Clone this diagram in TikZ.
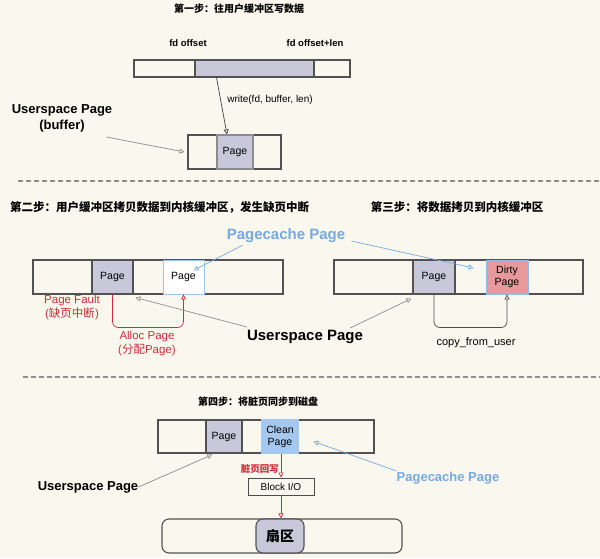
\documentclass[tikz,border=0pt]{standalone}
\usepackage{fontspec}
\setmainfont{Liberation Sans}
\newfontfamily\cjk{Noto Sans CJK SC}
\usetikzlibrary{arrows.meta}
\definecolor{cream}{HTML}{FAF8EE}
\definecolor{pagegray}{HTML}{C9C8DA}
\definecolor{cacheblue}{HTML}{76AAE2}
\definecolor{cleanblue}{HTML}{A5C8EE}
\definecolor{dirtyred}{HTML}{E8999C}
\definecolor{faultred}{HTML}{D32C38}
\definecolor{linegray}{HTML}{8C8C8C}

\tikzset{
  bar/.style={draw=black!68, line width=1.1pt, minimum height=#1, inner sep=0pt},
  bar/.default=34pt,
  pg/.style={draw=black!68, line width=1.1pt, fill=pagegray, inner sep=0pt,
    minimum height=34pt, align=center, font=\fontsize{10.5}{12}\selectfont},
  lbl/.style={inner sep=0pt, align=center},
  title/.style={inner sep=0pt, font=\cjk\bfseries\fontsize{#1}{13}\selectfont},
  title/.default=10,
  big/.style={inner sep=0pt, align=center, font=\bfseries\fontsize{#1}{16}\selectfont},
  big/.default=13,
  gtip/.style={-{Triangle[open,length=5pt,width=5pt]}, line width=0.7pt},
  grayarrow/.style={gtip, draw=linegray},
  bluearrow/.style={gtip, draw=cacheblue},
  redarrow/.style={gtip, draw=faultred},
  sep/.style={draw=linegray, line width=1.2pt, dash pattern=on 5pt off 3pt}
}

\begin{document}
\begin{tikzpicture}[x=1pt,y=-1pt]
  \fill [cream] (0,0) rectangle (600,558);
  \useasboundingbox (0,0) rectangle (600,558);

  % step 1
  \node[title] (t1) at (239,9) {第一步：往用户缓冲区写数据};
  \node[lbl, font=\bfseries\fontsize{9.5}{11}\selectfont] (fdoff) at (188,43) {fd offset};
  \node[lbl, font=\bfseries\fontsize{9.5}{11}\selectfont] (fdlen) at (315,43) {fd offset+len};
  \node[bar=17pt, minimum width=216pt] (file1) at (242,68.5) {};
  \node[pg, minimum height=17pt, minimum width=119pt] (range1) at (254.5,68.5) {};
  \node[bar, minimum width=93pt] (buf1) at (234.5,152) {};
  \node[pg, draw=black!45, minimum width=36pt] (page1) at (235,152) {Page};
  \node[lbl, font=\fontsize{10}{11}\selectfont] (wr) at (270,100) {write(fd, buffer, len)};
  \node[big] (ubuf) at (62,118) {Userspace Page\\(buffer)};
  \draw[gtip, draw=black!75] ([xshift=-38pt]range1.south) -- ([xshift=-8pt]page1.north);
  \draw[grayarrow] ([xshift=-6pt,yshift=-5pt]ubuf.south east) -- ([xshift=-3pt]buf1.west);

  \draw[sep] (18,181) -- (600,181);

  % step 2
  \node[title=11.5, anchor=west] (t2) at (10,207) {第二步：用户缓冲区拷贝数据到内核缓冲区，发生缺页中断};
  \node[bar, minimum width=250pt] (file2) at (158,277) {};
  \node[pg, minimum width=41pt] (upage2) at (112.5,277) {Page};
  \node[pg, draw=cacheblue!70, line width=0.8pt, fill=white, minimum width=41pt] (cpage2) at (183.5,277) {Page};
  \node[lbl, text=faultred, font=\fontsize{11.5}{14}\selectfont] (fault) at (72,308) {Page Fault\\({\cjk 缺页中断})};
  \node[lbl, text=faultred, font=\fontsize{11.5}{14}\selectfont] (alloc) at (147,344) {Alloc Page\\({\cjk 分配}Page)};
  \draw[redarrow, rounded corners=6pt] (upage2.south) -- ++(0,33) -| (cpage2.south);

  % step 3
  \node[title=11.5] (t3) at (457,207) {第三步：将数据拷贝到内核缓冲区};
  \node[bar, minimum width=249pt] (file3) at (458.5,277) {};
  \node[pg, minimum width=42pt] (upage3) at (434,277) {Page};
  \node[pg, draw=cacheblue!80, line width=0.8pt, fill=dirtyred, minimum width=42pt] (dirty) at (507,277) {Dirty\\Page};
  \node[lbl, font=\fontsize{11}{12}\selectfont] (cfu) at (476,343) {copy\_from\_user};
  \draw[gtip, draw=black!70, rounded corners=6pt] (upage3.south) -- ++(0,33) -| (dirty.south);

  % labels shared by step 2 and 3
  \node[big=15, text=cacheblue] (cache23) at (286,236) {Pagecache Page};
  \node[big=15] (user23) at (305,337) {Userspace Page};
  \draw[bluearrow] ([xshift=16pt,yshift=-2pt]cache23.south west) -- ([xshift=10pt,yshift=24pt]cpage2.south);
  \draw[bluearrow] ([xshift=6pt,yshift=-5pt]cache23.east) -- ([xshift=-12pt,yshift=9pt]dirty.west);
  \draw[grayarrow] ([yshift=10pt]user23.west) -- ([xshift=2pt,yshift=-3pt]upage2.south east);
  \draw[grayarrow] ([xshift=-13pt,yshift=9pt]user23.east) -- ([xshift=-1pt,yshift=-4pt]upage3.south west);

  \draw[sep] (23,377) -- (600,377);

  % step 4
  \node[title] (t4) at (258,402) {第四步：将脏页同步到磁盘};
  \node[bar=33pt, minimum width=216pt] (file4) at (266,436.5) {};
  \node[pg, minimum height=33pt, minimum width=36pt] (upage4) at (224,436.5) {Page};
  \node[pg, draw=cleanblue, fill=cleanblue, minimum height=33pt, minimum width=36pt] (clean) at (280,436.5) {Clean\\Page};
  \node[draw=black!70, line width=1pt, minimum width=66pt, minimum height=17pt, inner sep=0pt,
    font=\fontsize{10}{11}\selectfont] (bio) at (281,486.5) {Block I/O};
  \node[draw=black!68, line width=1.1pt, rounded corners=7pt, minimum width=240pt, minimum height=34pt] (disk) at (282,536) {};
  \node[pg, rounded corners=7pt, minimum width=48pt, font=\cjk\bfseries\fontsize{14}{16}\selectfont] (sector) at (280,536) {扇区};
  \node[lbl, anchor=east, text=faultred, font=\cjk\bfseries\fontsize{9.5}{11}\selectfont] (wb) at (279,469) {脏页回写};
  \draw[redarrow] (clean.south -| bio.north) -- (bio.north);
  \draw[redarrow] (bio.south) -- (bio.south |- disk.north);
  \node[big] (user4) at (88,487) {Userspace Page};
  \node[big, text=cacheblue] (cache4) at (448,478) {Pagecache Page};
  \draw[grayarrow] (user4.east) -- ([xshift=7pt,yshift=-1pt]upage4.south west);
  \draw[bluearrow] ([yshift=7pt]cache4.west) -- ([xshift=15pt,yshift=-5pt]clean.east);
\end{tikzpicture}
\end{document}
